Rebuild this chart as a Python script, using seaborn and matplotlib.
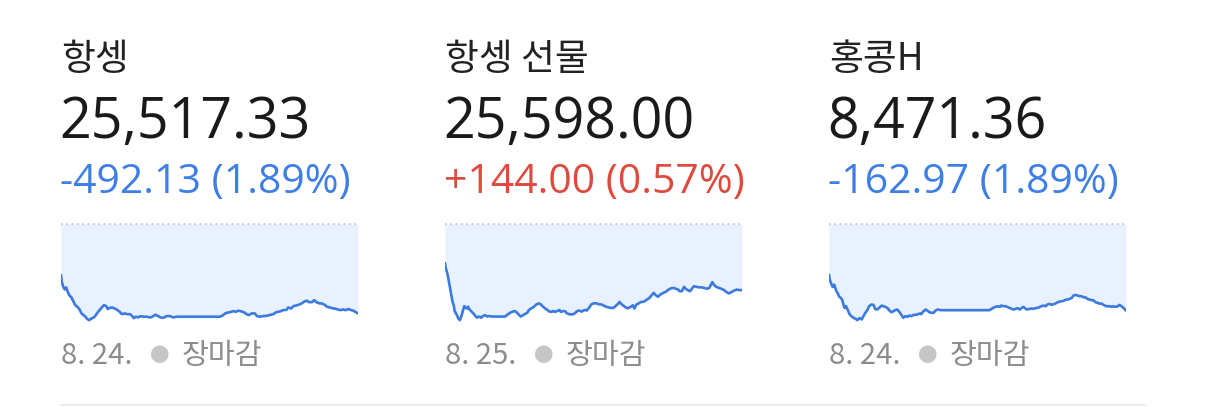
import numpy as np
import matplotlib
matplotlib.use("Agg")
import matplotlib.pyplot as plt
import seaborn as sns
from matplotlib.lines import Line2D

# ---- data ----
names = ["항셍", "항셍 선물", "홍콩H"]
last_prices = ["25,517.33", "25,598.00", "8,471.36"]
change_texts = ["-492.13 (1.89%)", "+144.00 (0.57%)", "-162.97 (1.89%)"]
dates = ["8. 24.", "8. 25.", "8. 24."]
status = "장마감"

# 항셍: minutes since 09:30 and change vs previous close
hsi_prev = 26009.46
hsi_min = [0, 1, 3, 5, 7, 9, 11, 14, 17, 19, 22, 25, 27, 30, 33, 35, 38, 41, 44, 46,
           49, 52, 55, 58, 61, 63, 66, 69, 71, 74, 77, 79, 82, 86, 89, 93, 96, 98, 101, 104,
           107, 111, 115, 120, 123, 127, 131, 134, 138, 142, 147, 151, 156, 165, 187, 214, 218, 221, 225, 228,
           232, 235, 239, 243, 246, 250, 253, 257, 261, 264, 268, 272, 277, 281, 286, 290, 295, 299, 304, 306,
           310, 313, 317, 321, 324, 328, 331, 334, 338, 341, 344, 348, 351, 355, 358, 362, 365, 369, 373, 376,
           380, 383, 387, 391, 394, 397, 400]
hsi_change = [-281, -318, -345, -360, -349, -373, -391, -404, -428, -446,
              -455, -470, -488, -501, -510, -522, -529, -520, -514, -507,
              -488, -474, -459, -446, -452, -468, -461, -459, -463, -468,
              -477, -483, -496, -492, -496, -496, -507, -518, -510, -514,
              -507, -510, -510, -514, -510, -499, -507, -514, -516, -507,
              -507, -514, -510, -510, -510, -510, -503, -492, -487, -485,
              -479, -483, -477, -481, -485, -496, -501, -492, -492, -507,
              -510, -507, -505, -501, -496, -485, -481, -474, -472, -459,
              -465, -452, -448, -443, -437, -426, -422, -430, -430, -419,
              -430, -437, -437, -444, -455, -459, -463, -466, -470, -474,
              -470, -474, -468, -474, -477, -485, -492.13]

# 항셍 선물: minutes and price, chart top at fut_ref
fut_ref = 25838
fut_min = [0, 1, 3, 4, 6, 8, 10, 12, 13, 16, 18, 20, 22, 24, 26, 28, 30, 31, 33, 35,
           38, 40, 43, 46, 49, 51, 54, 57, 59, 63, 67, 74, 81, 84, 88, 92, 94, 97, 100, 102,
           105, 108, 111, 113, 116, 120, 123, 127, 129, 132, 135, 138, 140, 143, 146, 148, 151, 154, 156, 159,
           162, 164, 168, 172, 175, 178, 181, 184, 188, 191, 194, 197, 200, 204, 208, 211, 215, 218, 222, 226,
           229, 233, 235, 238, 241, 244, 246, 250, 253, 255, 258, 261, 264, 268, 271, 275, 279, 281, 284, 287,
           290, 294, 298, 301, 305, 308, 311, 314, 316, 319, 322, 324, 327, 330, 333, 335, 339, 342, 346, 350,
           353, 356, 360, 362, 365, 369, 372, 376, 378, 382, 386, 389, 393, 396, 400]
fut_price = [25696, 25678, 25660, 25648, 25618, 25588, 25558, 25540, 25522, 25507,
             25495, 25489, 25502, 25522, 25540, 25533, 25531, 25538, 25528, 25522,
             25514, 25507, 25498, 25502, 25498, 25504, 25507, 25502, 25504, 25502,
             25502, 25502, 25502, 25509, 25516, 25521, 25522, 25516, 25507, 25502,
             25507, 25512, 25516, 25526, 25531, 25538, 25546, 25550, 25546, 25538,
             25531, 25526, 25521, 25519, 25522, 25519, 25522, 25526, 25519, 25522,
             25521, 25514, 25510, 25510, 25514, 25522, 25524, 25520, 25526, 25524,
             25534, 25546, 25550, 25550, 25546, 25546, 25540, 25537, 25534, 25533,
             25538, 25548, 25555, 25546, 25540, 25534, 25532, 25537, 25543, 25531,
             25546, 25550, 25555, 25556, 25562, 25569, 25582, 25588, 25579, 25574,
             25582, 25588, 25593, 25600, 25605, 25606, 25603, 25600, 25594, 25594,
             25610, 25603, 25598, 25594, 25605, 25612, 25610, 25608, 25608, 25605,
             25603, 25606, 25627, 25618, 25610, 25606, 25603, 25598, 25593, 25586,
             25591, 25596, 25600, 25598, 25598]

# 홍콩H: minutes and change vs previous close
hsh_prev = 8634.33
hsh_min = [0, 1, 3, 5, 7, 9, 10, 12, 14, 16, 18, 19, 21, 23, 25, 27, 28, 30, 33, 36,
           38, 41, 44, 46, 49, 52, 54, 57, 60, 62, 65, 68, 71, 73, 76, 79, 81, 84, 87, 89,
           92, 95, 98, 100, 103, 106, 108, 111, 114, 116, 119, 122, 124, 127, 130, 133, 135, 138, 141, 143,
           146, 151, 160, 178, 195, 216, 219, 222, 224, 227, 230, 232, 235, 238, 240, 243, 246, 249, 251, 254,
           257, 259, 262, 265, 267, 270, 273, 275, 278, 281, 284, 286, 289, 292, 294, 297, 300, 302, 305, 308,
           311, 313, 316, 319, 321, 324, 327, 329, 332, 335, 338, 340, 343, 346, 348, 351, 354, 356, 359, 362,
           364, 367, 370, 373, 375, 378, 381, 383, 386, 389, 391, 394, 397, 400]
hsh_change = [-95.5, -104.9, -112.4, -118.6, -114.3, -122.4, -126.8, -131.1, -137.4, -139.2,
              -143.6, -149.9, -158.0, -154.9, -161.1, -167.3, -170.5, -173.6, -176.7, -178.6,
              -181.1, -177.3, -179.8, -174.8, -167.3, -161.1, -154.9, -151.7, -152.4, -159.8,
              -161.1, -157.3, -153.6, -154.9, -156.1, -158.6, -162.3, -166.1, -164.2, -162.3,
              -161.1, -166.1, -172.3, -176.7, -173.6, -174.8, -172.3, -173.6, -171.1, -171.1,
              -170.5, -168.6, -169.8, -164.8, -161.1, -163.6, -166.1, -167.3, -167.3, -163.6,
              -161.1, -162.3, -162.3, -162.3, -162.3, -162.3, -159.8, -157.3, -156.1, -154.9,
              -156.1, -153.6, -154.9, -154.9, -156.1, -158.0, -159.8, -161.1, -159.8, -158.6,
              -161.1, -158.6, -156.1, -159.8, -161.1, -159.8, -159.2, -159.8, -158.6, -158.0,
              -156.1, -154.9, -153.6, -154.9, -151.7, -150.5, -152.4, -151.1, -149.9, -147.4,
              -146.1, -145.5, -144.9, -142.4, -142.4, -141.1, -139.2, -134.9, -133.6, -134.9,
              -136.1, -136.1, -138.0, -138.6, -141.1, -142.4, -143.6, -143.6, -147.4, -148.6,
              -149.9, -149.9, -152.4, -154.9, -154.9, -154.9, -156.1, -154.9, -156.1, -154.9,
              -152.4, -154.9, -158.6, -162.97]

hsi_price = hsi_prev + np.array(hsi_change)
hsh_price = hsh_prev + np.array(hsh_change)

series = [(hsi_min, hsi_price, hsi_prev),
          (fut_min, np.array(fut_price), fut_ref),
          (hsh_min, hsh_price, hsh_prev)]

# ---- style ----
sns.set_theme(style="white")
plt.rcParams["font.family"] = ["Noto Sans CJK KR", "DejaVu Sans"]
NUM_FONT = ["Open Sans", "Noto Sans CJK KR", "DejaVu Sans"]

W, H = 1206, 407
fig = plt.figure(figsize=(W / 100, H / 100), dpi=100)
fig.patch.set_facecolor("white")

BLUE = "#3d7fe4"
RED = "#de4a3e"
LINE = "#3b7ade"
FILL = "#e8f1fd"
GRAY = "#8c8c8c"

lefts = [61, 445, 829]
spark_w = 297


def fx(x):
    return x / W


def fy(y):
    return 1 - y / H


for i, (x0, (mins, price, ref)) in enumerate(zip(lefts, series)):
    fig.text(fx(x0), fy(70), names[i], fontsize=26.5, color="#222222", va="baseline")
    fig.text(fx(x0 - 2), fy(138), last_prices[i], fontsize=40, color="#1a1a1a",
             va="baseline", family=NUM_FONT)
    col = RED if change_texts[i].startswith("+") else BLUE
    fig.text(fx(x0 - 1), fy(193), change_texts[i], fontsize=29.5, color=col,
             va="baseline", family=NUM_FONT)

    # footer
    fig.text(fx(x0), fy(364), dates[i], fontsize=21, color=GRAY, va="baseline")
    fig.text(fx(x0 + 89), fy(362), "●", fontsize=14, color="#c6c6c6", va="baseline")
    fig.text(fx(x0 + 121), fy(364), status, fontsize=21, color=GRAY, va="baseline")

    # sparkline
    ax = fig.add_axes([fx(x0), fy(324), fx(spark_w), (324 - 224) / H])
    lo = price.min() - 0.04 * (ref - price.min())
    ax.fill_between(mins, price, ref, color=FILL, linewidth=0)
    sns.lineplot(x=mins, y=price, ax=ax, color=LINE, linewidth=1.9)
    ax.axhline(ref, color="#bdbdbd", linewidth=1.2, linestyle=(0, (1, 2.2)), clip_on=False)
    ax.set_xlim(0, 400)
    ax.set_ylim(lo, ref)
    ax.set_axis_off()

# bottom separator
fig.add_artist(Line2D([fx(61), fx(1145)], [fy(405), fy(405)], color="#ececec", linewidth=1.5))

fig.savefig("out.png", dpi=100, facecolor="white")
